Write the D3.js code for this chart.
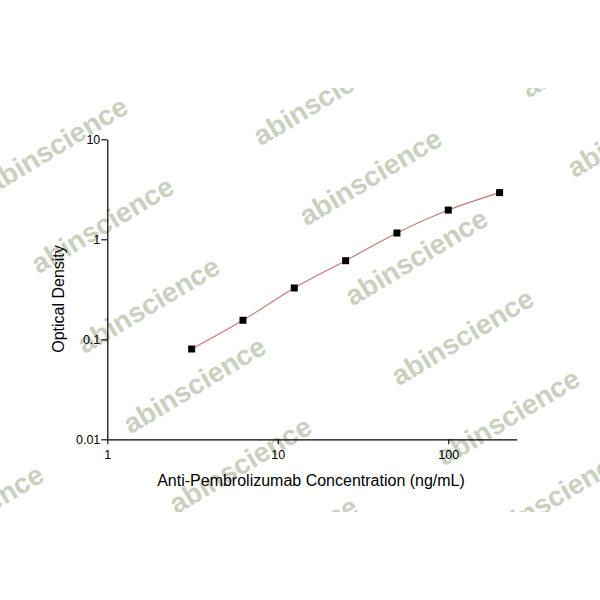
<!DOCTYPE html>
<html>
<head>
<meta charset="utf-8">
<script src="https://cdn.jsdelivr.net/npm/d3@7"></script>
<style>
  body { margin: 0; background: #fff; }
  text { font-family: "Liberation Sans", Arial, sans-serif; }
</style>
</head>
<body>
<script>
// standard curve points
const concentration = [3.125, 6.25, 12.5, 25, 50, 100, 200]
const opticalDensity = [0.080, 0.155, 0.326, 0.611, 1.156, 1.96, 2.93]

const xMajor = [1, 10, 100]
const yMajor = [0.01, 0.1, 1, 10]
const xLabel = "Anti-Pembrolizumab Concentration (ng/mL)"
const yLabel = "Optical Density"
const watermark = "abinscience"

const m = { width: 600, height: 600 }

const svg = d3.select("body").append("svg")
    .attr("width", m.width)
    .attr("height", m.height)

// watermark layer, clipped to the band the picture had
svg.append("clipPath").attr("id", "wmclip")
  .append("rect")
    .attr("x", 0).attr("y", 88)
    .attr("width", 600).attr("height", 424)

const wm = svg.append("g").attr("clip-path", "url(#wmclip)")
const origin = [57, 146], v1 = [46, 80], v2 = [268, -48]
for (let i = -4; i <= 6; i++) {
  for (let j = -2; j <= 4; j++) {
    const cx = origin[0] + i * v1[0] + j * v2[0]
    const cy = origin[1] + i * v1[1] + j * v2[1]
    if (cx < -120 || cx > 720 || cy < 30 || cy > 580) continue
    wm.append("text")
      .attr("transform", `translate(${cx},${cy}) rotate(-31)`)
      .attr("text-anchor", "middle")
      .attr("dy", "0.3em")
      .style("font-size", "28px")
      .style("font-weight", "bold")
      .style("fill", "#c9d0be")
      .text(watermark)
  }
}

const x = d3.scaleLog().domain([1, 252]).range([107.3, 516.7])
const y = d3.scaleLog().domain([0.01, 10]).range([439.3, 139.3])

const isMajor = v => Math.abs(Math.log10(v) - Math.round(Math.log10(v))) < 1e-9
const xMinor = x.ticks().filter(v => !isMajor(v))
const yMinor = y.ticks().filter(v => !isMajor(v))

const fmt = v => String(v)

// x axis
const gx = svg.append("g").attr("transform", `translate(0,${y(0.01)})`)
gx.call(d3.axisBottom(x).tickValues(xMinor).tickSize(3).tickFormat(""))
gx.call(d3.axisBottom(x).tickValues(xMajor).tickSize(5).tickSizeOuter(0).tickFormat(fmt))

// y axis
const gy = svg.append("g").attr("transform", `translate(${x(1)},0)`)
gy.call(d3.axisLeft(y).tickValues(yMinor).tickSize(4).tickFormat(""))
gy.call(d3.axisLeft(y).tickValues(yMajor).tickSize(6).tickSizeOuter(0).tickFormat(fmt))

svg.selectAll(".domain").attr("stroke", "#000").attr("stroke-width", 1.2)
svg.selectAll(".tick line").attr("stroke", "#000").attr("stroke-width", 1.1)
svg.selectAll(".tick text")
  .style("font-size", "12.5px")
  .style("font-family", "'Liberation Sans', Arial, sans-serif")
  .attr("fill", "#000")
gx.selectAll(".tick text").attr("dy", "0.9em").attr("y", 8)
gy.selectAll(".tick text").attr("x", -7)

// axis titles
svg.append("text")
  .attr("x", 311).attr("y", 486)
  .attr("text-anchor", "middle")
  .style("font-size", "16px")
  .text(xLabel)

svg.append("text")
  .attr("transform", "translate(64,299) rotate(-90)")
  .attr("text-anchor", "middle")
  .style("font-size", "16px")
  .text(yLabel)

// fitted curve
const pts = concentration.map((c, i) => [x(c), y(opticalDensity[i])])
svg.append("path")
  .attr("d", d3.line().curve(d3.curveMonotoneX)(pts))
  .attr("fill", "none")
  .attr("stroke", "#c87474")
  .attr("stroke-width", 1.1)

// points
svg.selectAll(".pt")
  .data(concentration)
  .enter()
  .append("rect")
    .attr("class", "pt")
    .attr("x", (d) => x(d) - 3.5)
    .attr("y", (d, i) => y(opticalDensity[i]) - 3.5)
    .attr("width", 7)
    .attr("height", 7)
    .attr("fill", "#000")
</script>
</body>
</html>
